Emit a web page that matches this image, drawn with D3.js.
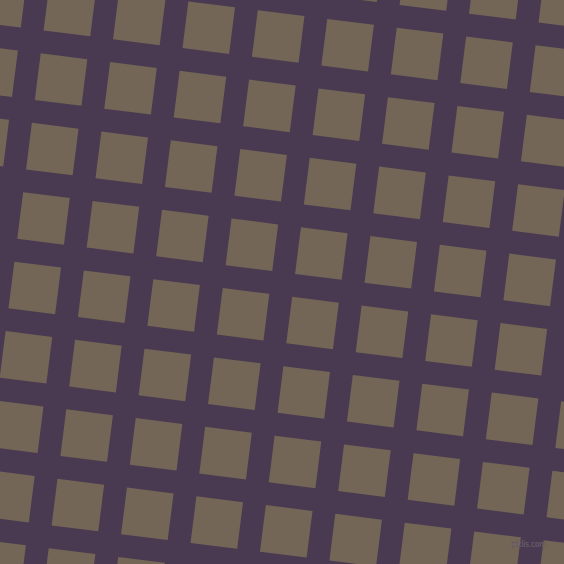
<!DOCTYPE html>
<html>
<head>
<meta charset="utf-8">
<script src="https://cdn.jsdelivr.net/npm/d3@7"></script>
<style>
  html, body { margin: 0; padding: 0; background: #4a3a51; overflow: hidden; }
</style>
</head>
<body>
<div id="chart"></div>
<script>
const width = 564;
const height = 564;

// lattice indices (columns across, rows down) and the tile look
const cols = [-2, -1, 0, 1, 2, 3, 4, 5, 6, 7, 8, 9];
const rows = [-2, -1, 0, 1, 2, 3, 4, 5, 6, 7, 8, 9];
const pitch = 70;
const tileSize = 47;
const angle = 7.2;
const origin = [40.7, 53.3];
const bgColor = "#4a3a51";
const tileColor = "#736656";

const svg = d3.select("#chart")
    .append("svg")
    .attr("width", width)
    .attr("height", height)

svg.append("rect")
    .attr("width", width)
    .attr("height", height)
    .style("fill", bgColor)

const xScale = d3.scaleLinear().domain([0, 1]).range([0, pitch])
const yScale = d3.scaleLinear().domain([0, 1]).range([0, pitch])

const cells = []
rows.forEach(r => cols.forEach(c => cells.push({"col": c, "row": r})))

const grid = svg.append("g")
    .attr("transform", `translate(${origin[0]},${origin[1]}) rotate(${angle})`)

grid.selectAll(".tile")
    .data(cells)
    .enter()
    .append("rect")
    .attr("class", "tile")
    .attr("x", d => xScale(d.col))
    .attr("y", d => yScale(d.row))
    .attr("width", tileSize)
    .attr("height", tileSize)
    .style("fill", tileColor)

// little watermark, bottom right
svg.append("text")
    .text("pixlis.com")
    .attr("x", 511)
    .attr("y", 547)
    .attr("textLength", 35)
    .attr("lengthAdjust", "spacingAndGlyphs")
    .style("font-family", "DejaVu Sans, sans-serif")
    .style("font-size", "9px")
    .style("fill", "#867c84")
    .style("stroke", "#5a4e5c")
    .style("stroke-width", 0.4)
    .style("opacity", 0.9)
</script>
</body>
</html>
